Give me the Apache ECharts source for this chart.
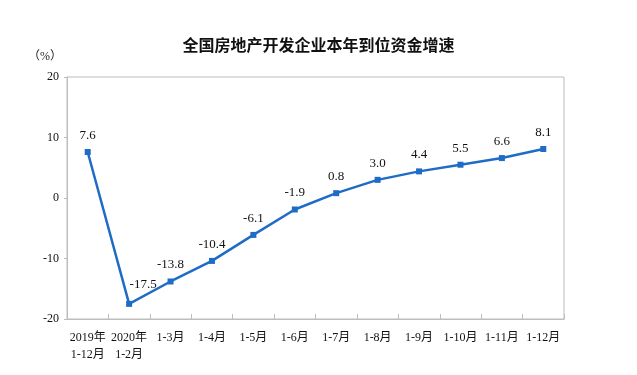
<!DOCTYPE html>
<html><head><meta charset="utf-8">
<script src="https://cdn.jsdelivr.net/npm/echarts@6/dist/echarts.min.js"></script>
<style>html,body{margin:0;padding:0;background:#fff;}#c{width:637px;height:375px;}</style>
</head><body><div id="c"></div>
<script>
var titleText = '全国房地产开发企业本年到位资金增速';
var unitText = '（%）';
var categories = ['2019年\n1-12月', '2020年\n1-2月', '1-3月', '1-4月', '1-5月', '1-6月', '1-7月', '1-8月', '1-9月', '1-10月', '1-11月', '1-12月'];
var growth = [7.6, -17.5, -13.8, -10.4, -6.1, -1.9, 0.8, 3.0, 4.4, 5.5, 6.6, 8.1];
var yMin = -20, yMax = 20, yStep = 10;

var serif = '"Liberation Serif", "Noto Sans CJK SC", serif';
var chart = echarts.init(document.getElementById('c'));
chart.setOption({
  animation: false,
  backgroundColor: '#fff',
  title: {
    text: titleText, left: 'center', top: 32,
    textStyle: { fontFamily: '"Noto Sans CJK SC", sans-serif', fontSize: 16, fontWeight: 'bold', color: '#111' }
  },
  graphic: [{
    type: 'text', left: 28, top: 51,
    style: { text: unitText, font: '12px ' + serif, fill: '#222' }
  }],
  grid: { left: 67, right: 73, top: 77, bottom: 56, show: true, borderColor: '#bdbdbd', borderWidth: 1, containLabel: false },
  xAxis: {
    type: 'category', data: categories, boundaryGap: true,
    axisLine: { show: true, onZero: false, lineStyle: { color: '#bdbdbd', width: 1 } },
    axisTick: { show: true, inside: true, length: 5, alignWithLabel: false, lineStyle: { color: '#bdbdbd' } },
    axisLabel: { interval: 0, margin: 10, fontFamily: serif, fontSize: 12, color: '#111', lineHeight: 17, align: 'center', verticalAlign: 'top' },
    splitLine: { show: false }
  },
  yAxis: {
    type: 'value', min: yMin, max: yMax, interval: yStep,
    axisLine: { show: true, lineStyle: { color: '#bdbdbd' } },
    axisTick: { show: true, length: 3, lineStyle: { color: '#bdbdbd' } },
    axisLabel: { fontFamily: serif, fontSize: 12, color: '#111', margin: 8 },
    splitLine: { show: false }
  },
  series: [{
    type: 'line', data: growth,
    symbol: 'rect', symbolSize: 6,
    lineStyle: { color: '#1f6cc6', width: 2.5 },
    itemStyle: { color: '#1f6cc6' },
    label: {
      show: true, position: 'top', distance: 7,
      fontFamily: serif, fontSize: 13, color: '#111',
      formatter: function (p) { return p.value.toFixed(1); }
    },
    labelLayout: function (params) {
      if (params.dataIndex === 1) {
        return { dx: 14, dy: -3 };
      }
      return {};
    }
  }]
});
</script></body></html>
